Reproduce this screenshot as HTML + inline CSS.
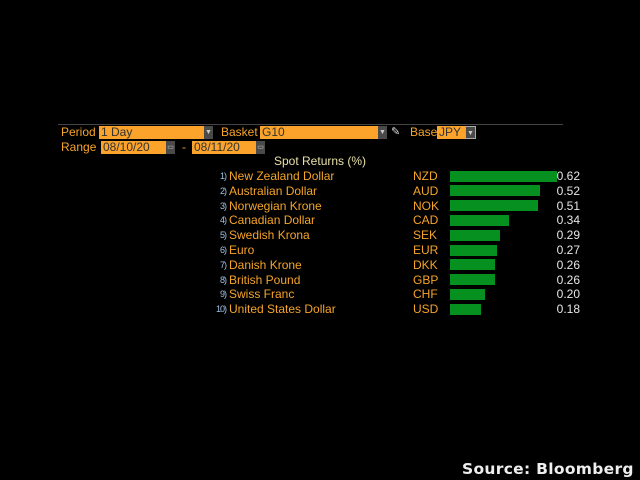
<!DOCTYPE html>
<html><head><style>
body{margin:0;width:640px;height:480px;background:#000;position:relative;overflow:hidden;font-family:"Liberation Sans",sans-serif;}
.a{position:absolute;white-space:nowrap;}
.l{color:#f5a42a;font-size:12px;line-height:13px;}
.f{background:#fba32a;color:#333;font-size:12px;line-height:13px;height:13px;padding-left:2px;box-sizing:border-box;}
.b{background:#4a4a4a;height:13px;width:9px;color:#ccc;font-size:7px;line-height:13px;text-align:center;}
.n{color:#9fc3e6;font-size:9px;line-height:14px;letter-spacing:-1px;text-align:right;width:16px;}
.nm{color:#f5a42a;font-size:12px;line-height:14px;}
.v{color:#e6e6e6;font-size:12px;line-height:14px;text-align:right;width:40px;}
.bar{background:#06901f;height:11px;}
</style></head><body>
<div class="a" style="left:58px;top:124px;width:505px;height:1px;background:#444"></div>
<div class="a l" style="left:61px;top:126px">Period</div>
<div class="a f" style="left:99px;top:126px;width:105px">1 Day</div>
<div class="a b" style="left:204px;top:126px">▼</div>
<div class="a l" style="left:221px;top:126px">Basket</div>
<div class="a f" style="left:260px;top:126px;width:118px">G10</div>
<div class="a b" style="left:378px;top:126px">▼</div>
<div class="a" style="left:391px;top:125px;color:#ddd;font-size:11px">✎</div>
<div class="a l" style="left:410px;top:126px">Base</div>
<div class="a f" style="left:437px;top:126px;width:28px">JPY</div>
<div class="a b" style="left:465px;top:126px;border:1px solid #aaa;box-sizing:border-box;width:11px">▼</div>
<div class="a l" style="left:61px;top:141px">Range</div>
<div class="a f" style="left:101px;top:141px;width:65px">08/10/20</div>
<div class="a b" style="left:166px;top:141px">▭</div>
<div class="a l" style="left:182px;top:141px">-</div>
<div class="a f" style="left:192px;top:141px;width:64px">08/11/20</div>
<div class="a b" style="left:256px;top:141px">▭</div>
<div class="a" style="left:274px;top:155px;color:#e8e0a8;font-size:12px;line-height:13px">Spot Returns (%)</div>
<div id="rows"></div>
<div class="a" style="left:462px;top:460px;color:#eee;font-size:15.5px;font-weight:bold;letter-spacing:0.3px;font-family:'DejaVu Sans',sans-serif">Source: Bloomberg</div>
<script>
var d=[["New Zealand Dollar","NZD",0.62],["Australian Dollar","AUD",0.52],["Norwegian Krone","NOK",0.51],["Canadian Dollar","CAD",0.34],["Swedish Krona","SEK",0.29],["Euro","EUR",0.27],["Danish Krone","DKK",0.26],["British Pound","GBP",0.26],["Swiss Franc","CHF",0.20],["United States Dollar","USD",0.18]];
var h="";
d.forEach(function(r,i){var y=169+i*14.8;
h+='<div class="a n" style="left:210px;top:'+y+'px">'+(i+1)+')</div>';
h+='<div class="a nm" style="left:229px;top:'+y+'px">'+r[0]+'</div>';
h+='<div class="a nm" style="left:413px;top:'+y+'px">'+r[1]+'</div>';
h+='<div class="a bar" style="left:450px;top:'+(y+1.5)+'px;width:'+Math.round(r[2]*172.5)+'px"></div>';
h+='<div class="a v" style="left:540px;top:'+y+'px">'+r[2].toFixed(2)+'</div>';});
document.getElementById("rows").innerHTML=h;
</script>
</body></html>
